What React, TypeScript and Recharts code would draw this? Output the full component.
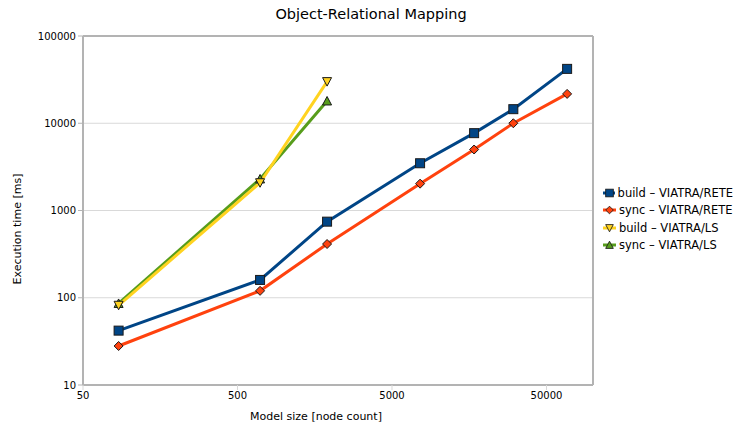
import React from "react";
import { LineChart, Line, XAxis, YAxis, CartesianGrid, Legend, ReferenceLine } from "recharts";

// model sizes (node count) for each engine
const reteSizes = [85, 700, 1900, 7600, 17000, 30500, 68000];
const lsSizes = [85, 700, 1900];

// execution times in ms
const buildRete = [42, 160, 745, 3480, 7700, 14500, 42000];
const syncRete = [28, 120, 413, 2030, 5000, 10000, 21700];
const buildLs = [82, 2080, 30000];
const syncLs = [86, 2300, 18000];

const xTicks = [50, 500, 5000, 50000];
const yTicks = [10, 100, 1000, 10000, 100000];

const FONT = "'DejaVu Sans', sans-serif";
const AXIS = "#b3b3b3";

type Shape = "square" | "diamond" | "down" | "up";

const toPoints = (xs: number[], ys: number[]) => xs.map((x, i) => ({ x, y: ys[i] }));

const series: { name: string; color: string; shape: Shape; data: { x: number; y: number }[] }[] = [
  { name: "build – VIATRA/RETE", color: "#004586", shape: "square", data: toPoints(reteSizes, buildRete) },
  { name: "sync – VIATRA/RETE", color: "#ff420e", shape: "diamond", data: toPoints(reteSizes, syncRete) },
  { name: "build – VIATRA/LS", color: "#ffd320", shape: "down", data: toPoints(lsSizes, buildLs) },
  { name: "sync – VIATRA/LS", color: "#579d1c", shape: "up", data: toPoints(lsSizes, syncLs) },
];

// yellow sits on top of green in the original
const drawOrder = [0, 1, 3, 2];

const Marker = ({ cx, cy, shape, color }: { cx: number; cy: number; shape: Shape; color: string }) => {
  const common = { fill: color, stroke: "#1a1a1a", strokeWidth: 1 };
  if (shape === "square") return <rect x={cx - 4.5} y={cy - 4.5} width={9} height={9} {...common} />;
  if (shape === "diamond")
    return <polygon points={`${cx},${cy - 4.5} ${cx + 4.5},${cy} ${cx},${cy + 4.5} ${cx - 4.5},${cy}`} {...common} />;
  if (shape === "down")
    return <polygon points={`${cx - 4.5},${cy - 4} ${cx + 4.5},${cy - 4} ${cx},${cy + 4.5}`} {...common} />;
  return <polygon points={`${cx - 4.5},${cy + 4} ${cx + 4.5},${cy + 4} ${cx},${cy - 4.5}`} {...common} />;
};

const LegendContent = () => (
  <div style={{ fontFamily: FONT, fontSize: 11.5, color: "#000" }}>
    {series.map((s) => (
      <div key={s.name} style={{ display: "flex", alignItems: "center", height: 17.5, whiteSpace: "nowrap" }}>
        <svg width={13} height={12} style={{ marginRight: 3 }}>
          <line x1={0} y1={6} x2={13} y2={6} stroke={s.color} strokeWidth={3} />
          <g transform="translate(6.5,6) scale(0.85) translate(-6.5,-6)">
            <Marker cx={6.5} cy={6} shape={s.shape} color={s.color} />
          </g>
        </svg>
        <span>{s.name}</span>
      </div>
    ))}
  </div>
);

export default function App() {
  return (
    <div style={{ position: "absolute", left: 0, top: 0, width: 733, height: 429, background: "#fff" }}>
      <div
        style={{
          position: "absolute",
          left: 171,
          width: 400,
          top: 6,
          textAlign: "center",
          fontFamily: FONT,
          fontSize: 14.5,
          color: "#000",
        }}
      >
        Object-Relational Mapping
      </div>
      <div
        style={{
          position: "absolute",
          left: 116,
          width: 400,
          top: 410,
          textAlign: "center",
          fontFamily: FONT,
          fontSize: 11,
          color: "#000",
        }}
      >
        Model size [node count]
      </div>
      <div
        style={{
          position: "absolute",
          left: 17,
          top: 229,
          transform: "translate(-50%, -50%) rotate(-90deg)",
          whiteSpace: "nowrap",
          fontFamily: FONT,
          fontSize: 11,
          color: "#000",
        }}
      >
        Execution time [ms]
      </div>
      <LineChart width={733} height={429} margin={{ top: 36, right: 140, bottom: 14, left: 0 }}>
        <CartesianGrid vertical={false} stroke="#d9d9d9" strokeWidth={1} />
        <XAxis
          type="number"
          dataKey="x"
          scale="log"
          domain={[50, 100000]}
          ticks={xTicks}
          allowDataOverflow
          height={30}
          axisLine={{ stroke: AXIS, strokeWidth: 2 }}
          tickLine={{ stroke: "#d9d9d9" }}
          tickSize={5}
          tick={{ fill: "#000", fontSize: 10, fontFamily: FONT }}
        />
        <YAxis
          type="number"
          dataKey="y"
          scale="log"
          domain={[10, 100000]}
          ticks={yTicks}
          allowDataOverflow
          width={83}
          axisLine={{ stroke: AXIS, strokeWidth: 2 }}
          tickLine={{ stroke: AXIS }}
          tickSize={5}
          tick={{ fill: "#000", fontSize: 10, fontFamily: FONT }}
        />
        <ReferenceLine y={100000} stroke={AXIS} strokeWidth={2} />
        <ReferenceLine x={100000} stroke={AXIS} strokeWidth={2} />
        {drawOrder.map((i) => {
          const s = series[i];
          return (
            <Line
              key={s.name}
              data={s.data}
              dataKey="y"
              name={s.name}
              stroke={s.color}
              strokeWidth={3}
              isAnimationActive={false}
              dot={(p: any) => (
                <Marker key={`${s.name}-${p.index}`} cx={p.cx} cy={p.cy} shape={s.shape} color={s.color} />
              )}
              activeDot={false}
            />
          );
        })}
        <Legend
          layout="vertical"
          align="center"
          verticalAlign="middle"
          wrapperStyle={{ left: 603, top: 184, width: 130, height: "auto" }}
          content={<LegendContent />}
        />
      </LineChart>
    </div>
  );
}
